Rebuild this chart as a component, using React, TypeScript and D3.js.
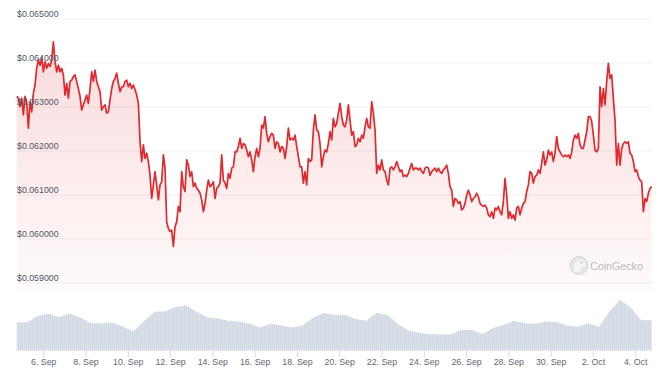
import React from "react";
import * as d3 from "d3";

// ---- Data ----
const START = Date.UTC(2023, 8, 4, 17, 20);
const END = Date.UTC(2023, 9, 4, 18, 10);

const prices: number[] = [
  0.06324, 0.0632, 0.06301, 0.0632, 0.06282, 0.06324, 0.06312, 0.06252, 0.06312, 0.06289,
  0.06331, 0.0635, 0.06388, 0.06407, 0.06395, 0.06411, 0.0638, 0.06403, 0.06388, 0.06399,
  0.06392, 0.06407, 0.06448, 0.06403, 0.0638, 0.06395, 0.0638, 0.06388, 0.06373, 0.06327,
  0.06354, 0.0632, 0.06358, 0.06361, 0.06369, 0.06373, 0.06358, 0.06342, 0.06324, 0.06293,
  0.06305, 0.06316, 0.06327, 0.06308, 0.06342, 0.0638, 0.06358, 0.06384, 0.06358, 0.06346,
  0.06335, 0.06293, 0.06301, 0.06305, 0.06286, 0.06289, 0.06316, 0.06342, 0.06358, 0.06365,
  0.06377, 0.06354, 0.06335, 0.06346, 0.06346, 0.06358, 0.06361, 0.06346, 0.06354, 0.06342,
  0.0635, 0.06339, 0.06327, 0.06308, 0.06221, 0.06176, 0.06214, 0.06183, 0.06195, 0.06176,
  0.06145, 0.06092, 0.06123, 0.06153, 0.06123, 0.06089, 0.06123, 0.0613, 0.06191, 0.06161,
  0.06039, 0.06024,
  0.06017, 0.0602, 0.05983, 0.06028, 0.06039, 0.06074, 0.06062, 0.06153, 0.06119, 0.06108,
  0.0618, 0.06168, 0.06142, 0.06153, 0.06119, 0.06127, 0.06115, 0.06111, 0.06104, 0.06089,
  0.06062, 0.06081, 0.06111, 0.06134, 0.06119, 0.06123, 0.0613, 0.06092, 0.06115, 0.06119,
  0.06127, 0.06191, 0.06134, 0.06127, 0.06115, 0.06149, 0.06138, 0.06161, 0.06164, 0.06198,
  0.06198, 0.0621, 0.06229, 0.06206, 0.06217, 0.06214, 0.06202, 0.06187, 0.06198, 0.0618,
  0.06153, 0.06187, 0.06206, 0.06187, 0.06206, 0.06259, 0.06252, 0.06278, 0.0624, 0.06221,
  0.06233, 0.0624, 0.06236, 0.06206, 0.06221, 0.06217, 0.06198, 0.0621, 0.06206, 0.06183,
  0.0621, 0.06252, 0.06225, 0.06229, 0.06225, 0.06236, 0.0621, 0.06187, 0.06164, 0.06164,
  0.06127, 0.06153, 0.06123, 0.06183, 0.06176, 0.0618, 0.06248, 0.06282, 0.06248, 0.06244,
  0.06217, 0.06164, 0.06187,
  0.06202, 0.06198, 0.06217, 0.06244, 0.06225, 0.06274, 0.06255, 0.06263, 0.06286, 0.06308,
  0.06278, 0.06259, 0.06255, 0.0627, 0.06305, 0.0627, 0.06236, 0.06244, 0.0621, 0.06214,
  0.06229, 0.06221, 0.06236, 0.06229, 0.06255, 0.06274, 0.06255, 0.06252, 0.06312, 0.06286,
  0.06248, 0.06149, 0.06168, 0.06157, 0.0618, 0.06157, 0.06153, 0.06134, 0.06123, 0.06161,
  0.06164, 0.06157, 0.06164, 0.06176, 0.06164, 0.06153, 0.06157, 0.06142, 0.06145, 0.06142,
  0.06149, 0.06161, 0.06172, 0.06157, 0.06161, 0.06161, 0.06157, 0.06161, 0.06153, 0.06149,
  0.06161, 0.06164, 0.06161, 0.06145, 0.06153, 0.06157, 0.06161, 0.06153, 0.06161, 0.06153,
  0.06149, 0.06157, 0.06161, 0.06168, 0.06149, 0.06119, 0.06111, 0.06074, 0.06092, 0.06089,
  0.06081, 0.06085, 0.06066, 0.0607, 0.06081, 0.061, 0.06111, 0.061, 0.06085, 0.06092,
  0.06096, 0.06104, 0.06096, 0.06081, 0.06077, 0.06074,
  0.06077, 0.0607, 0.06055, 0.06051, 0.06062, 0.06047, 0.0607, 0.06066, 0.06074, 0.06062,
  0.06055, 0.06085, 0.06138, 0.061, 0.06047, 0.06062, 0.06047, 0.06055, 0.06043, 0.0607,
  0.06074, 0.06055, 0.0607, 0.06081, 0.06085, 0.06108, 0.06123, 0.06153, 0.06149, 0.06127,
  0.06142, 0.06145, 0.06157, 0.06149, 0.06172, 0.06198, 0.06168, 0.0618, 0.06202, 0.06191,
  0.06198, 0.06176, 0.06195, 0.06233, 0.06206, 0.06198, 0.06191, 0.06187, 0.06191, 0.06187,
  0.06191, 0.06183, 0.06198, 0.06225, 0.06236, 0.06229, 0.0624, 0.06214, 0.06206, 0.06206,
  0.06225, 0.06244, 0.06278, 0.06278, 0.06267, 0.06236, 0.06202, 0.06198, 0.06206, 0.06346,
  0.06301, 0.06342, 0.06305, 0.06358, 0.06399, 0.06365, 0.06373, 0.0632, 0.0627, 0.06168,
  0.06217, 0.06168, 0.06206, 0.06217, 0.06221, 0.06217, 0.06221, 0.06195, 0.06191, 0.06176,
  0.06153, 0.06157, 0.06142, 0.06134, 0.0613, 0.06062, 0.06092, 0.06085, 0.06104, 0.06115,
  0.06119,
];

// volume, in millions USD, every 12 hours
const volumes: number[] = [
  4.4, 4.5, 5.5, 5.9, 5.3, 5.9, 5.3, 4.3, 4.3, 4.4,
  3.8, 2.9, 4.6, 6.2, 6.3, 7.0, 7.3, 6.2, 5.3, 5.1,
  4.7, 4.6, 4.2, 3.6, 4.2, 3.9, 3.6, 3.9, 5.2, 6.0,
  5.7, 5.7, 5.0, 4.7, 6.0, 5.7, 4.2, 3.1, 2.7, 2.5,
  2.4, 2.4, 3.2, 3.2, 2.5, 3.5, 4.0, 4.7, 4.3, 4.2,
  4.6, 4.5, 3.9, 3.7, 4.3, 3.7, 6.2, 8.2, 6.9, 4.8,
  4.8,
];

const yTicks: number[] = [0.059, 0.06, 0.061, 0.062, 0.063, 0.064, 0.065];
const xTickDays: [number, number][] = [
  [8, 6], [8, 8], [8, 10], [8, 12], [8, 14], [8, 16], [8, 18], [8, 20],
  [8, 22], [8, 24], [8, 26], [8, 28], [8, 30], [9, 2], [9, 4],
];
const xTickLabels: string[] = [
  "6. Sep", "8. Sep", "10. Sep", "12. Sep", "14. Sep", "16. Sep", "18. Sep", "20. Sep",
  "22. Sep", "24. Sep", "26. Sep", "28. Sep", "30. Sep", "2. Oct", "4. Oct",
];

const W = 664;
const H = 382;
const LEFT = 16.7;
const RIGHT = 651.7;
const FONT = "'Liberation Sans', Arial, sans-serif";

export default function App() {
  const x = d3.scaleUtc().domain([START, END]).range([LEFT, RIGHT]);
  const y = d3.scaleLinear().domain([0.059, 0.065]).range([283, 19]);
  const yv = d3.scaleLinear().domain([0, 10]).range([349, 289]);

  const pStep = (END - START) / (prices.length - 1);
  const pData = prices.map((p, i) => ({ t: START + i * pStep, v: p }));
  const vStep = (END - START) / (volumes.length - 1);
  const vData = volumes.map((v, i) => ({ t: START + i * vStep, v }));

  const line = d3
    .line<{ t: number; v: number }>()
    .x((d) => x(d.t))
    .y((d) => y(d.v));
  const area = d3
    .area<{ t: number; v: number }>()
    .x((d) => x(d.t))
    .y0(292)
    .y1((d) => y(d.v));
  const vArea = d3
    .area<{ t: number; v: number }>()
    .x((d) => x(d.t))
    .y0(yv(0))
    .y1((d) => yv(d.v));

  return (
    <svg
      width={W}
      height={H}
      style={{ position: "absolute", left: 0, top: 0, background: "#fff" }}
    >
      <defs>
        <linearGradient id="pfill" gradientUnits="userSpaceOnUse" x1="0" y1="40" x2="0" y2="292">
          <stop offset="0" stopColor="#e02a2f" stopOpacity={0.17} />
          <stop offset="1" stopColor="#e02a2f" stopOpacity={0.02} />
        </linearGradient>
        <pattern id="vstripe" patternUnits="userSpaceOnUse" width="2" height="10">
          <rect x="0" y="0" width="2" height="10" fill="#cfd7e2" />
          <rect x="1.4" y="0" width="0.6" height="10" fill="#ffffff" opacity="0.45" />
        </pattern>
      </defs>

      {/* grid */}
      {yTicks.map((t) => (
        <line key={t} x1={LEFT} x2={RIGHT} y1={y(t)} y2={y(t)} stroke="#efefef" strokeWidth={1} />
      ))}

      {/* price area + line */}
      <path d={area(pData) || ""} fill="url(#pfill)" />
      <path
        d={line(pData) || ""}
        fill="none"
        stroke="#e02a2f"
        strokeWidth={1.7}
        strokeLinejoin="round"
      />

      {/* y labels */}
      {yTicks.map((t) => (
        <text
          key={"l" + t}
          x={17}
          y={y(t) - 2}
          fontFamily={FONT}
          fontSize={8.8}
          fill="#4d5767"
        >
          {"$" + t.toFixed(6)}
        </text>
      ))}

      {/* volume */}
      <path d={vArea(vData) || ""} fill="url(#vstripe)" />
      <line x1={LEFT} x2={RIGHT} y1={350} y2={350} stroke="#dfe5ee" strokeWidth={2} />

      {/* x ticks */}
      {xTickDays.map(([m, d], i) => {
        const px = x(Date.UTC(2023, m, d));
        return (
          <g key={i}>
            <line x1={px} x2={px} y1={349} y2={357} stroke="#d3dbe8" strokeWidth={1} />
            <text
              x={px}
              y={365}
              textAnchor="middle"
              fontFamily={FONT}
              fontSize={8.8}
              fill="#5f6673"
            >
              {xTickLabels[i]}
            </text>
          </g>
        );
      })}

      {/* watermark */}
      <g opacity={0.9}>
        <circle cx={579} cy={265.5} r={9} fill="#e4e4e4" stroke="#d2d2d2" strokeWidth={1} />
        <path
          d="M574,272 C573,266 575,260 580,259.5 C584,259.5 586,262 585.5,265 C585,267 582,267 581,268 L580,272 Z"
          fill="#f4f4f4"
        />
        <circle cx={581.5} cy={262.5} r={0.9} fill="#bcbcbc" />
        <text x={590} y={269.5} fontFamily={FONT} fontSize={10.7} fill="#b4b4b4">
          CoinGecko
        </text>
      </g>
    </svg>
  );
}
